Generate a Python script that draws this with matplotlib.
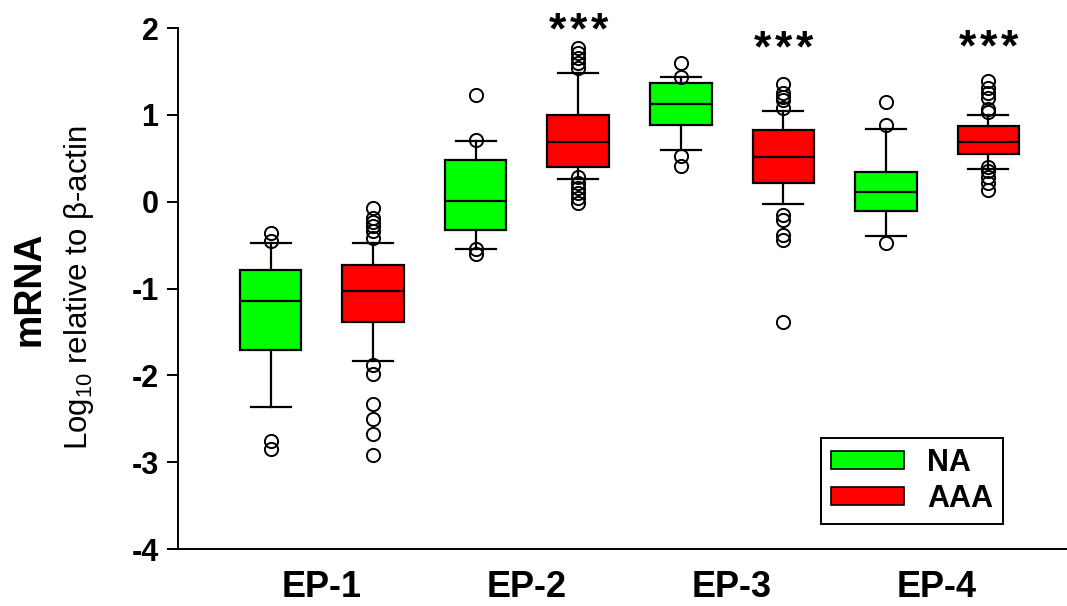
import matplotlib
matplotlib.use("Agg")
import matplotlib.pyplot as plt
from matplotlib.patches import Patch

plt.rcParams['font.family'] = ['Liberation Sans', 'DejaVu Sans']
plt.rcParams['mathtext.default'] = 'regular'
plt.rcParams['axes.unicode_minus'] = False

# Datos (log10 relativo a beta-actina)
grupos = ['EP-1', 'EP-2', 'EP-3', 'EP-4']

na_q1 = [-1.71, -0.32, 0.887, -0.107]
na_med = [-1.14, 0.01, 1.125, 0.115]
na_q3 = [-0.79, 0.476, 1.37, 0.34]
na_lo = [-2.36, -0.54, 0.59, -0.39]
na_hi = [-0.47, 0.695, 1.437, 0.84]
na_fliers = [[-0.36, -0.45, -2.76, -2.85],
             [1.23, 0.71, -0.55, -0.60],
             [1.60, 1.44, 0.53, 0.41],
             [1.15, 0.88, -0.48]]

aaa_q1 = [-1.39, 0.40, 0.22, 0.545]
aaa_med = [-1.025, 0.69, 0.515, 0.69]
aaa_q3 = [-0.73, 1.0, 0.83, 0.875]
aaa_lo = [-1.84, 0.26, -0.03, 0.38]
aaa_hi = [-0.48, 1.486, 1.05, 1.0]
aaa_fliers = [[-0.07, -0.19, -0.23, -0.28, -0.34, -0.42, -1.88, -1.98, -2.33, -2.50, -2.68, -2.92],
              [1.77, 1.71, 1.655, 1.60, 1.54, 0.29, 0.215, 0.16, 0.10, 0.04, -0.015],
              [1.35, 1.25, 1.21, 1.175, 1.08, -0.15, -0.21, -0.38, -0.44, -1.39],
              [1.39, 1.31, 1.25, 1.19, 1.07, 1.03, 0.40, 0.35, 0.29, 0.215, 0.14]]

# Significancia (*** sobre AAA), y = línea base del texto
signif = ['', '***', '***', '***']
signif_y = [0, 1.82, 1.61, 1.625]


def armar_stats(q1, med, q3, lo, hi, fliers):
    return [dict(q1=q1[i], med=med[i], q3=q3[i], whislo=lo[i], whishi=hi[i], fliers=fliers[i])
            for i in range(len(q1))]


fig = plt.figure(figsize=(10.67, 6.06), dpi=100)
ax = fig.add_axes([0.1668, 0.094, 0.8332, 0.8597])

centros = [i + 1 for i in range(len(grupos))]
pos_na = [c - 0.25 for c in centros]
pos_aaa = [c + 0.25 for c in centros]

estilo = dict(widths=0.30, capwidths=0.195, patch_artist=True,
              boxprops=dict(linewidth=1.6, edgecolor='black'),
              medianprops=dict(color='black', linewidth=1.6),
              whiskerprops=dict(color='black', linewidth=1.6),
              capprops=dict(color='black', linewidth=1.6),
              flierprops=dict(marker='o', markerfacecolor='none', markeredgecolor='black',
                              markersize=9.5, markeredgewidth=1.4))

b1 = ax.bxp(armar_stats(na_q1, na_med, na_q3, na_lo, na_hi, na_fliers), positions=pos_na, **estilo)
b2 = ax.bxp(armar_stats(aaa_q1, aaa_med, aaa_q3, aaa_lo, aaa_hi, aaa_fliers), positions=pos_aaa, **estilo)
for caja in b1['boxes']:
    caja.set_facecolor('#00ff00')
for caja in b2['boxes']:
    caja.set_facecolor('#ff0000')

for i in range(len(grupos)):
    if signif[i]:
        ax.text(pos_aaa[i], signif_y[i], '\u200a'.join(signif[i]), ha='center', va='baseline',
                fontsize=32, fontweight='bold', clip_on=False)

ax.set_xlim(0.2976, 4.634)
ax.set_ylim(-4, 2)
ax.set_yticks(range(-4, 3))
ax.set_xticks(centros)
ax.set_xticklabels(grupos, fontsize=26, fontweight='bold')
ax.tick_params(axis='x', length=0, pad=15)
ax.tick_params(axis='y', length=8, width=1.4, direction='out', labelsize=22, pad=6)
for lbl in ax.get_yticklabels():
    lbl.set_fontweight('bold')

ax.spines['top'].set_visible(False)
ax.spines['right'].set_visible(False)
ax.spines['left'].set_linewidth(1.4)
ax.spines['bottom'].set_linewidth(1.4)

fig.text(0.028, 0.524, 'mRNA', rotation=90, ha='center', va='center',
         fontsize=27, fontweight='bold')
fig.text(0.074, 0.525, r'Log$_{10}$ relative to β-actin', rotation=90, ha='center', va='center',
         fontsize=22.5)

leyenda = [Patch(facecolor='#00ff00', edgecolor='black', linewidth=1.2, label='NA'),
           Patch(facecolor='#ff0000', edgecolor='black', linewidth=1.2, label='AAA')]
leg = ax.legend(handles=leyenda, loc='upper left', bbox_to_anchor=(821 / 1067, 1 - 438 / 606),
                bbox_transform=fig.transFigure, prop=dict(weight='bold', size=22),
                handlelength=2.4, handleheight=0.5, handletextpad=0.75,
                labelspacing=0.2, borderpad=0.32, borderaxespad=0,
                fancybox=False, framealpha=1)
leg.get_frame().set_edgecolor('black')
leg.get_frame().set_linewidth(1.4)

fig.savefig('out.png', dpi=100)
